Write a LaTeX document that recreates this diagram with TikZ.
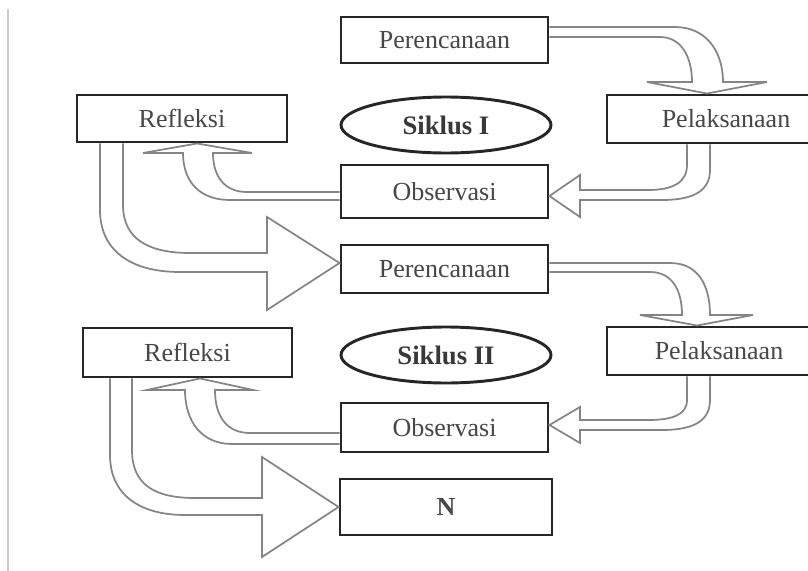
\documentclass[tikz,border=0pt]{standalone}
\usepackage{fontspec}
\setmainfont{Liberation Serif}
\usetikzlibrary{shapes.geometric}
\begin{document}
\begin{tikzpicture}[x=0.75pt,y=0.75pt,yscale=-1,xscale=1,
  stagebox/.style={draw=black!85,line width=2.2pt,fill=white,inner sep=0pt,
    text=black!72,font=\fontsize{19.5}{22}\selectfont},
  cyclering/.style={ellipse,draw=black!85,line width=2.2pt,fill=white,inner sep=0pt,
    text=black!78,font=\bfseries\fontsize{20}{22}\selectfont},
  blockarrow/.style={draw=black!48,line width=1.3pt,fill=white,line join=miter}]
\useasboundingbox (0,0) rectangle (808,571);
\clip (0,0) rectangle (808,571);
%Straight Lines: scan edge
\draw [color=black!20,line width=1.5pt] (8,9) -- (8,571);
%Shape: Rectangle
\node (per1) at (444.5,40) [stagebox,minimum width=155.25pt,minimum height=34.5pt] {Perencanaan};
\node (pel1) at (726,119) [stagebox,minimum width=178.5pt,minimum height=36pt] {Pelaksanaan};
\node (obs1) at (444.5,191.5) [stagebox,minimum width=155.25pt,minimum height=39.75pt] {Observasi};
\node (ref1) at (182,118.5) [stagebox,minimum width=157.5pt,minimum height=35.25pt] {Refleksi};
%Shape: Ellipse
\node (sik1) at (446,125) [cyclering,minimum width=157.5pt,minimum height=42pt] {Siklus I};
%Shape: Rectangle
\node (per2) at (444.5,269) [stagebox,minimum width=155.25pt,minimum height=36pt] {Perencanaan};
\node (pel2) at (719,351) [stagebox,minimum width=168pt,minimum height=36pt] {Pelaksanaan};
\node (obs2) at (444.5,427.5) [stagebox,minimum width=155.25pt,minimum height=36.75pt] {Observasi};
\node (ref2) at (187.5,352.5) [stagebox,minimum width=156.75pt,minimum height=36.75pt] {Refleksi};
\node (nxt) at (446,507) [stagebox,font=\bfseries\fontsize{19.5}{22}\selectfont,minimum width=159pt,minimum height=42pt] {N};
%Shape: Ellipse
\node (sik2) at (446,355) [cyclering,minimum width=157.5pt,minimum height=42pt] {Siklus II};
%Curved Arrow: perencanaan -> pelaksanaan
\draw [blockarrow] (per1.east |- 0,27) -- (675,27) .. controls (705,27) and (723,50) .. (723,82) -- (767,82) -- (707,0 |- pel1.north) -- (647,82) -- (692,82) .. controls (692,55) and (680,37) .. (660,37) -- (per1.east |- 0,37) ;
%Curved Arrow: pelaksanaan -> observasi
\draw [blockarrow] (687,0 |- pel1.south) -- (687,165) .. controls (687,183) and (672,190) .. (648,190) -- (580,190) -- (580,175) -- (obs1.east |- 0,196) -- (580,217) -- (580,200) -- (662,200) .. controls (695,200) and (710,190) .. (710,170) -- (710,0 |- pel1.south) ;
%Curved Arrow: observasi -> refleksi
\draw [blockarrow] (obs1.west |- 0,192) -- (247,192) .. controls (225,192) and (213,177) .. (213,153) -- (252,153) -- (197,0 |- ref1.south) -- (143,153) -- (183,153) .. controls (183,182) and (200,200) .. (230,200) -- (obs1.west |- 0,200) ;
%Curved Arrow: refleksi -> perencanaan
\draw [blockarrow] (100,0 |- ref1.south) -- (100,210) .. controls (100,250) and (130,272) .. (180,272) -- (267,272) -- (267,310) -- (per2.west |- 0,263) -- (267,217) -- (267,253) -- (190,253) .. controls (150,253) and (123,240) .. (123,205) -- (123,0 |- ref1.south) ;
%Curved Arrow: perencanaan -> pelaksanaan
\draw [blockarrow] (per2.east |- 0,263) -- (670,263) .. controls (698,263) and (710,285) .. (710,315) -- (753,315) -- (697,0 |- pel2.north) -- (640,315) -- (682,315) .. controls (682,290) and (672,272) .. (650,272) -- (per2.east |- 0,272) ;
%Curved Arrow: pelaksanaan -> observasi
\draw [blockarrow] (687,0 |- pel2.south) -- (687,400) .. controls (687,415) and (672,420) .. (648,420) -- (580,420) -- (580,407) -- (obs2.east |- 0,425) -- (580,443) -- (580,430) -- (662,430) .. controls (695,430) and (710,420) .. (710,400) -- (710,0 |- pel2.south) ;
%Curved Arrow: observasi -> refleksi
\draw [blockarrow] (obs2.west |- 0,433) -- (250,433) .. controls (228,433) and (215,418) .. (215,390) -- (253,390) -- (200,0 |- ref2.south) -- (147,390) -- (185,390) .. controls (185,422) and (202,444) .. (232,444) -- (obs2.west |- 0,444) ;
%Curved Arrow: refleksi -> N
\draw [blockarrow] (110,0 |- ref2.south) -- (110,455) .. controls (110,495) and (140,515) .. (185,515) -- (262,515) -- (262,557) -- (nxt.west |- 0,507) -- (262,457) -- (262,498) -- (195,498) .. controls (155,498) and (132,485) .. (132,450) -- (132,0 |- ref2.south) ;
\end{tikzpicture}
\end{document}
